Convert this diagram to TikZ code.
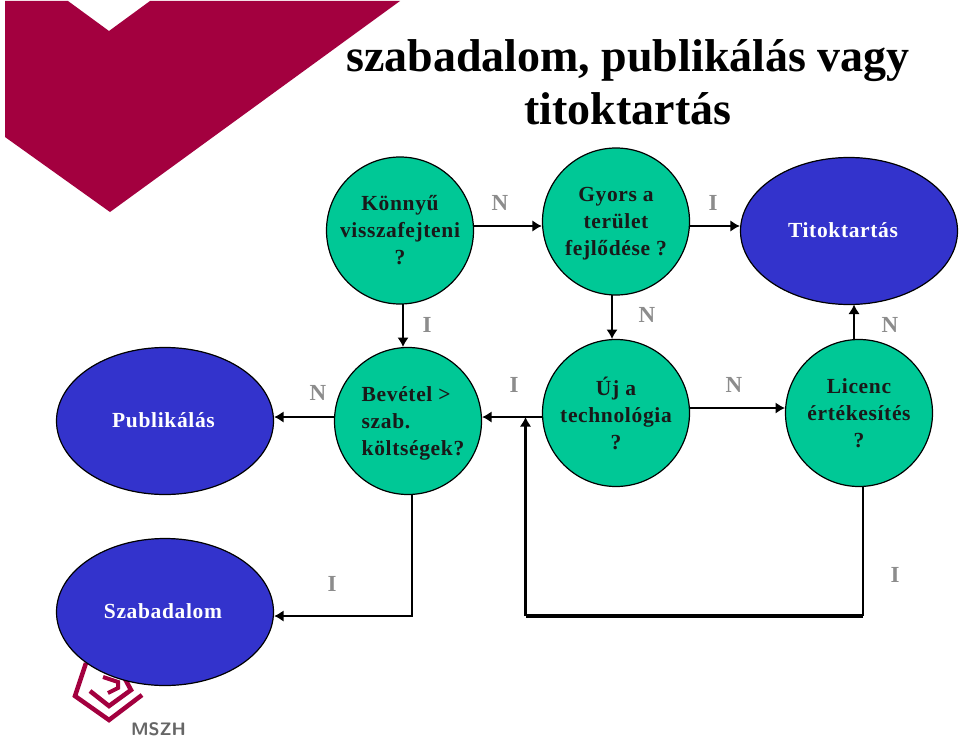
\documentclass[tikz,border=0pt]{standalone}
\usepackage{fontspec}
\setmainfont{Liberation Serif}
\newfontfamily\lblfont[LetterSpace=3,BoldFont={Liberation Serif Bold}]{Liberation Serif Bold}
\usetikzlibrary{arrows.meta,shapes.geometric}
\definecolor{wine}{HTML}{A3003F}
\definecolor{teal2}{HTML}{00C896}
\definecolor{blue2}{HTML}{3333CC}
\tikzset{
 q/.style={circle,draw=black,line width=1.2pt,fill=teal2,minimum size=147pt,inner sep=0pt,align=center,font=\lblfont\fontsize{21.5}{27}\selectfont,text=black!90},
 outc/.style={ellipse,draw=black,line width=1.2pt,fill=blue2,minimum width=217pt,minimum height=147pt,inner sep=0pt,font=\lblfont\fontsize{21.5}{25}\selectfont,text=white},
 conn/.style={line width=2.7pt,-{Latex[length=9.5pt,width=11.5pt]}},
 plain/.style={line width=2.7pt},
 thick2/.style={line width=4pt},
 lab/.style={font=\bfseries\fontsize{23}{25}\selectfont,text=black!45,inner sep=0pt},
}
\begin{document}
\begin{tikzpicture}[x=1pt,y=-1pt]
\useasboundingbox (0,0) rectangle (960,749);
\fill[white] (0,0) rectangle (960,749);
\fill[wine] (5,1) -- (68,1) -- (109,31) -- (150,1) -- (400,1) -- (110,212) -- (5,137) -- cycle;
\draw[wine,line width=4.5pt,miter limit=10] (86,663) -- (75,696) -- (109,720) -- (142,695);
\draw[wine,line width=4.5pt] (90,691) -- (109,706) -- (131,690) -- (124,677);
\draw[wine,line width=4pt] (103,677) -- (118,682) -- (118,688) -- (108,693);
\node[font=\bfseries\sffamily\fontsize{18}{18}\selectfont,text=black!60,inner sep=0pt] (logo) at (158.5,729) {MSZH};
\node[font=\bfseries\fontsize{46}{53}\selectfont,align=center,inner sep=0pt] (title) at (628,82) {szabadalom, publikálás vagy\\titoktartás};
\node[q] (a) at (400,230.5) {Könnyű\\visszafejteni\\?};
\node[q] (b) at (616,221.5) {\rule{0pt}{18.5pt}Gyors a\\terület\\fejlődése ?};
\node[outc] (t) at (849,231) {\raisebox{2pt}{Titoktartás}\hspace*{12pt}};
\node[outc] (p) at (165,421) {\raisebox{2pt}{Publikálás}\hspace*{3pt}};
\node[q,align=left] (c) at (408,421) {\rule{0pt}{20.5pt}\hspace*{10pt}Bevétel >\\\hspace*{10pt}szab.\\\hspace*{10pt}költségek?};
\node[q] (d) at (616,413) {Új a\\technológia\\?};
\node[q] (e) at (859,413) {Licenc\\értékesítés\\?};
\node[outc] (s) at (165,612) {\raisebox{2pt}{Szabadalom}\hspace*{4pt}};
\coordinate (j1) at (412,616);
\coordinate (j2) at (863,616);
\coordinate (j3) at (525.5,616);
\coordinate (j4) at (525.5,417);
\draw[conn] (a.east |- 0,226) -- (b.west |- 0,226);
\draw[conn] (b.east |- 0,226) -- (t.west |- 0,226);
\draw[conn] (403,304) -- (403,347);
\draw[conn] (612,295) -- (612,339);
\draw[conn] (854,339) -- (854,304.5);
\draw[conn] (c.west |- 0,417) -- (p.east |- 0,417);
\draw[conn] (d.west |- 0,417) -- (c.east |- 0,417);
\draw[conn] (690,408) -- (785,408);
\draw[conn] (412,495) -- (j1) -- (s.east |- j1);
\draw[plain] (863,487) -- (j2);
\draw[thick2] (j2) -- (j3);
\draw[conn,line width=3.2pt] (j3) -- (j4);
\node[lab] at (500,203) {N};
\node[lab] at (713,203) {I};
\node[lab] at (427,325) {I};
\node[lab] at (647,315) {N};
\node[lab] at (890,325) {N};
\node[lab] at (318,393) {N};
\node[lab] at (514,385) {I};
\node[lab] at (734,385) {N};
\node[lab] at (332,584) {I};
\node[lab] at (895,575) {I};
\end{tikzpicture}
\end{document}
